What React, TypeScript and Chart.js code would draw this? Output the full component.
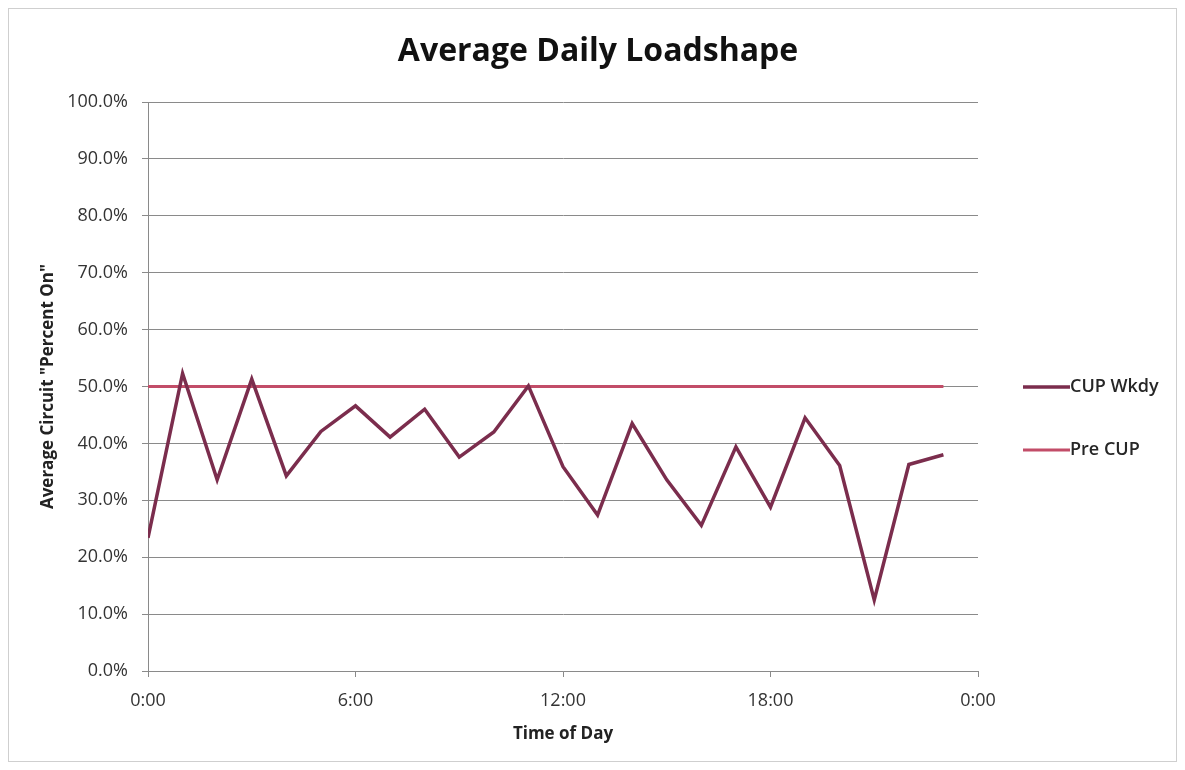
import React, { useEffect, useRef } from "react";
import { Chart, registerables } from "chart.js";

Chart.register(...registerables);

// Hours of day (x values)
const hours = [0, 1, 2, 3, 4, 5, 6, 7, 8, 9, 10, 11, 12, 13, 14, 15, 16, 17, 18, 19, 20, 21, 22, 23];
// Average circuit "percent on" (%)
const cupWkdy = [23.4, 52.3, 33.6, 51.3, 34.3, 42.1, 46.6, 41.1, 46.0, 37.6, 42.0, 50.1, 35.9, 27.4, 43.5, 33.6, 25.6, 39.4, 28.8, 44.5, 36.1, 12.5, 36.3, 38.0];
const preCup = [50, 50, 50, 50, 50, 50, 50, 50, 50, 50, 50, 50, 50, 50, 50, 50, 50, 50, 50, 50, 50, 50, 50, 50];
const seriesLabels = ["CUP Wkdy", "Pre CUP"];
const xTickStep = 6;

const FONT = "'Open Sans', 'Liberation Sans', sans-serif";

const sideLegend = {
  id: "sideLegend",
  afterDraw(chart: any) {
    const { ctx, chartArea } = chart;
    const midY = (chartArea.top + chartArea.bottom) / 2;
    ctx.save();
    chart.data.datasets.forEach((ds: any, i: number) => {
      const y = midY + 0.5 + i * 63;
      const x0 = chartArea.right + 45;
      const x1 = x0 + 47;
      ctx.strokeStyle = ds.borderColor;
      ctx.lineWidth = ds.borderWidth;
      ctx.beginPath();
      ctx.moveTo(x0, y);
      ctx.lineTo(x1, y);
      ctx.stroke();
      ctx.fillStyle = "#262626";
      ctx.font = `600 18px ${FONT}`;
      ctx.textAlign = "left";
      ctx.textBaseline = "middle";
      ctx.fillText(ds.label, x1, y);
    });
    ctx.restore();
  },
};

export default function App() {
  const ref = useRef<HTMLCanvasElement | null>(null);

  useEffect(() => {
    if (!ref.current) return;
    const chart = new Chart(ref.current, {
      type: "line",
      data: {
        datasets: [
          {
            label: seriesLabels[0],
            data: hours.map((h, i) => ({ x: h, y: cupWkdy[i] })),
            borderColor: "#7b2d4d",
            borderWidth: 3.5,
            pointRadius: 0,
            tension: 0,
          },
          {
            label: seriesLabels[1],
            data: hours.map((h, i) => ({ x: h, y: preCup[i] })),
            borderColor: "#c24d68",
            borderWidth: 3,
            pointRadius: 0,
            tension: 0,
          },
        ],
      },
      options: {
        animation: false,
        responsive: true,
        maintainAspectRatio: false,
        layout: { padding: { left: 24, right: 13, top: 0, bottom: 0 } },
        plugins: {
          legend: { display: false },
          tooltip: { enabled: false },
          title: {
            display: true,
            text: "Average Daily Loadshape",
            color: "#111",
            font: { family: FONT, size: 32, weight: "bold" },
            padding: { top: 24, bottom: 30.6 },
          },
        },
        scales: {
          x: {
            type: "linear",
            min: 0,
            max: 24,
            afterFit: (s: any) => {
              s.height = 90;
            },
            ticks: {
              stepSize: xTickStep,
              color: "#333",
              font: { family: FONT, size: 18 },
              padding: 13,
              maxRotation: 0,
              callback: (v: any) => `${Number(v) % 24}:00`,
            },
            grid: {
              drawOnChartArea: false,
              drawTicks: true,
              tickLength: 6,
              color: "#8a8a8a",
            },
            border: { display: true, color: "#8a8a8a", width: 1 },
            title: {
              display: true,
              text: "Time of Day",
              color: "#222",
              font: { family: FONT, size: 17, weight: "bold" },
              padding: { top: 0, bottom: 17 },
            },
          },
          y: {
            min: 0,
            max: 100,
            afterFit: (s: any) => {
              s.width = 115;
            },
            ticks: {
              stepSize: 10,
              color: "#333",
              font: { family: FONT, size: 18 },
              padding: 14,
              callback: (v: any) => `${Number(v).toFixed(1)}%`,
            },
            grid: {
              color: "#8a8a8a",
              tickLength: 6,
              lineWidth: 1,
            },
            border: { display: true, color: "#8a8a8a", width: 1 },
            title: {
              display: true,
              text: 'Average Circuit "Percent On"',
              color: "#222",
              font: { family: FONT, size: 17, weight: "bold" },
              padding: { top: 5, bottom: 0 },
            },
          },
          // empty right-hand area reserved for the legend
          legendSpace: {
            type: "linear",
            position: "right",
            display: true,
            afterFit: (s: any) => {
              s.width = 185;
            },
            ticks: { display: false },
            grid: { display: false },
            border: { display: false },
          },
        },
      },
      plugins: [sideLegend],
    });
    return () => chart.destroy();
  }, []);

  return (
    <div
      style={{
        position: "relative",
        width: 1167,
        height: 752,
        border: "1px solid #cfcfcf",
        background: "#fff",
      }}
    >
      <canvas ref={ref} />
    </div>
  );
}
